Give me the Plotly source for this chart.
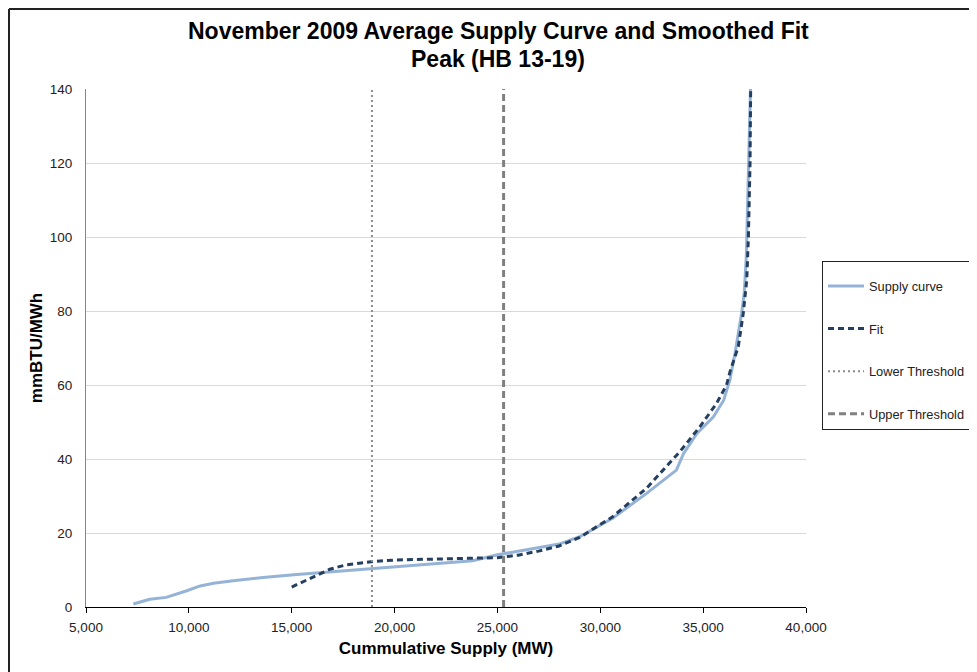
import plotly.graph_objects as go

supply_x = [7300, 8100, 8900, 9250, 9900, 10550, 11200, 12150, 13600, 15250, 16850, 18950,
            20900, 23800, 25000, 26000, 27000, 28000, 29000, 30600, 32250, 33000, 33700, 34050,
            34700, 35500, 36000, 36300, 36550, 36870, 37000, 37100, 37200, 37300]
supply_y = [0.8, 2.1, 2.6, 3.2, 4.4, 5.7, 6.4, 7.1, 8.0, 8.8, 9.5, 10.4,
            11.3, 12.5, 14.1, 15.0, 16.0, 17.0, 19.0, 24.0, 30.7, 34.0, 37.0, 41.5,
            46.9, 51.4, 55.9, 61.4, 68.6, 79.4, 85.0, 95.0, 115.0, 140.0]

fit_x = [15000, 16050, 16850, 17650, 18950, 20100, 21700, 23800, 25000, 26000, 27000, 28000,
         29000, 30600, 32250, 33870, 34840, 35650, 36140, 36300, 36710, 36950, 37120, 37200,
         37280, 37310]
fit_y = [5.4, 8.2, 10.2, 11.4, 12.3, 12.7, 13.0, 13.2, 13.3, 14.0, 15.1, 16.5,
         18.8, 24.4, 32.1, 42.0, 48.7, 55.0, 60.0, 63.5, 70.4, 79.4, 88.4, 100.0,
         120.0, 140.0]

lower_threshold = 18900
upper_threshold = 25300
y_range = [0, 140]
x_range = [5000, 40000]

title_line1 = "November 2009 Average Supply Curve and Smoothed Fit"
title_line2 = "Peak (HB 13-19)"

FONT = "Liberation Sans, Arial, sans-serif"

fig = go.Figure()
fig.add_trace(go.Scatter(x=supply_x, y=supply_y, mode="lines", name="Supply curve",
                         legendgroup="a",
                         line=dict(color="#95b3d7", width=3)))
fig.add_trace(go.Scatter(x=fit_x, y=fit_y, mode="lines", name="Fit", legendgroup="b",
                         line=dict(color="#243f60", width=3, dash="6px,4px")))
fig.add_trace(go.Scatter(x=[lower_threshold, lower_threshold], y=y_range, mode="lines",
                         name="Lower Threshold", legendgroup="c",
                         line=dict(color="#8c8c8c", width=2, dash="2px,3px")))
fig.add_trace(go.Scatter(x=[upper_threshold, upper_threshold], y=y_range, mode="lines",
                         name="Upper Threshold", legendgroup="d",
                         line=dict(color="#808080", width=3, dash="7px,4px")))

# page coordinates (the page body adds an 8px offset)
OFF = 8
L, R, T, B = 86, 806, 89, 607
W, H = 977, 672
pw, ph = R - L, B - T

def px(xp):
    return (xp - L) / pw

def py(yp):
    return (B - yp) / ph

fig.update_layout(
    width=W, height=H,
    margin=dict(l=L - OFF, r=W - (R - OFF), t=T - OFF, b=H - (B - OFF), pad=0,
                autoexpand=False),
    paper_bgcolor="white", plot_bgcolor="white",
    font=dict(family=FONT, size=13, color="#333333"),
    showlegend=True,
    legend=dict(x=px(822), y=py(261), xanchor="left", yanchor="top",
                bordercolor="#222222", borderwidth=1, bgcolor="white",
                font=dict(family=FONT, size=12.8, color="#222222"),
                title=dict(text=" ", font=dict(size=7)),
                tracegroupgap=23, itemwidth=36),
    xaxis=dict(range=x_range, dtick=5000, tickformat=",", showgrid=False, zeroline=False,
               showline=True, linecolor="#000000", linewidth=1,
               ticks="outside", ticklen=5, tickcolor="#000000", ticklabelstandoff=3,
               tickfont=dict(family=FONT, size=13.5, color="#222222"),
               title=dict(text="<b>Cummulative Supply (MW)</b>", standoff=7,
                          font=dict(family=FONT, size=17, color="#000000"))),
    yaxis=dict(range=y_range, dtick=20, showgrid=True, gridcolor="#d9d9d9", gridwidth=1,
               zeroline=False, showline=True, linecolor="#868686", linewidth=1,
               ticks="", ticklabelstandoff=10,
               tickfont=dict(family=FONT, size=13.5, color="#222222"),
               title=dict(text="<b>mmBTU/MWh</b>", standoff=2,
                          font=dict(family=FONT, size=17, color="#000000"))),
    annotations=[
        dict(text="<b>" + title_line1 + "</b>", xref="paper", yref="paper",
             x=px(498), y=py(31), xanchor="center", yanchor="middle", showarrow=False,
             font=dict(family=FONT, size=23, color="#000000")),
        dict(text="<b>" + title_line2 + "</b>", xref="paper", yref="paper",
             x=px(498), y=py(59), xanchor="center", yanchor="middle", showarrow=False,
             font=dict(family=FONT, size=23, color="#000000")),
    ],
    shapes=[
        dict(type="line", xref="paper", yref="paper", x0=px(9), x1=px(1010), y0=py(9), y1=py(9),
             line=dict(color="#222222", width=2)),
        dict(type="line", xref="paper", yref="paper", x0=px(9), x1=px(9), y0=py(9), y1=py(700),
             line=dict(color="#222222", width=2)),
    ],
)

fig.write_html("out.html")
